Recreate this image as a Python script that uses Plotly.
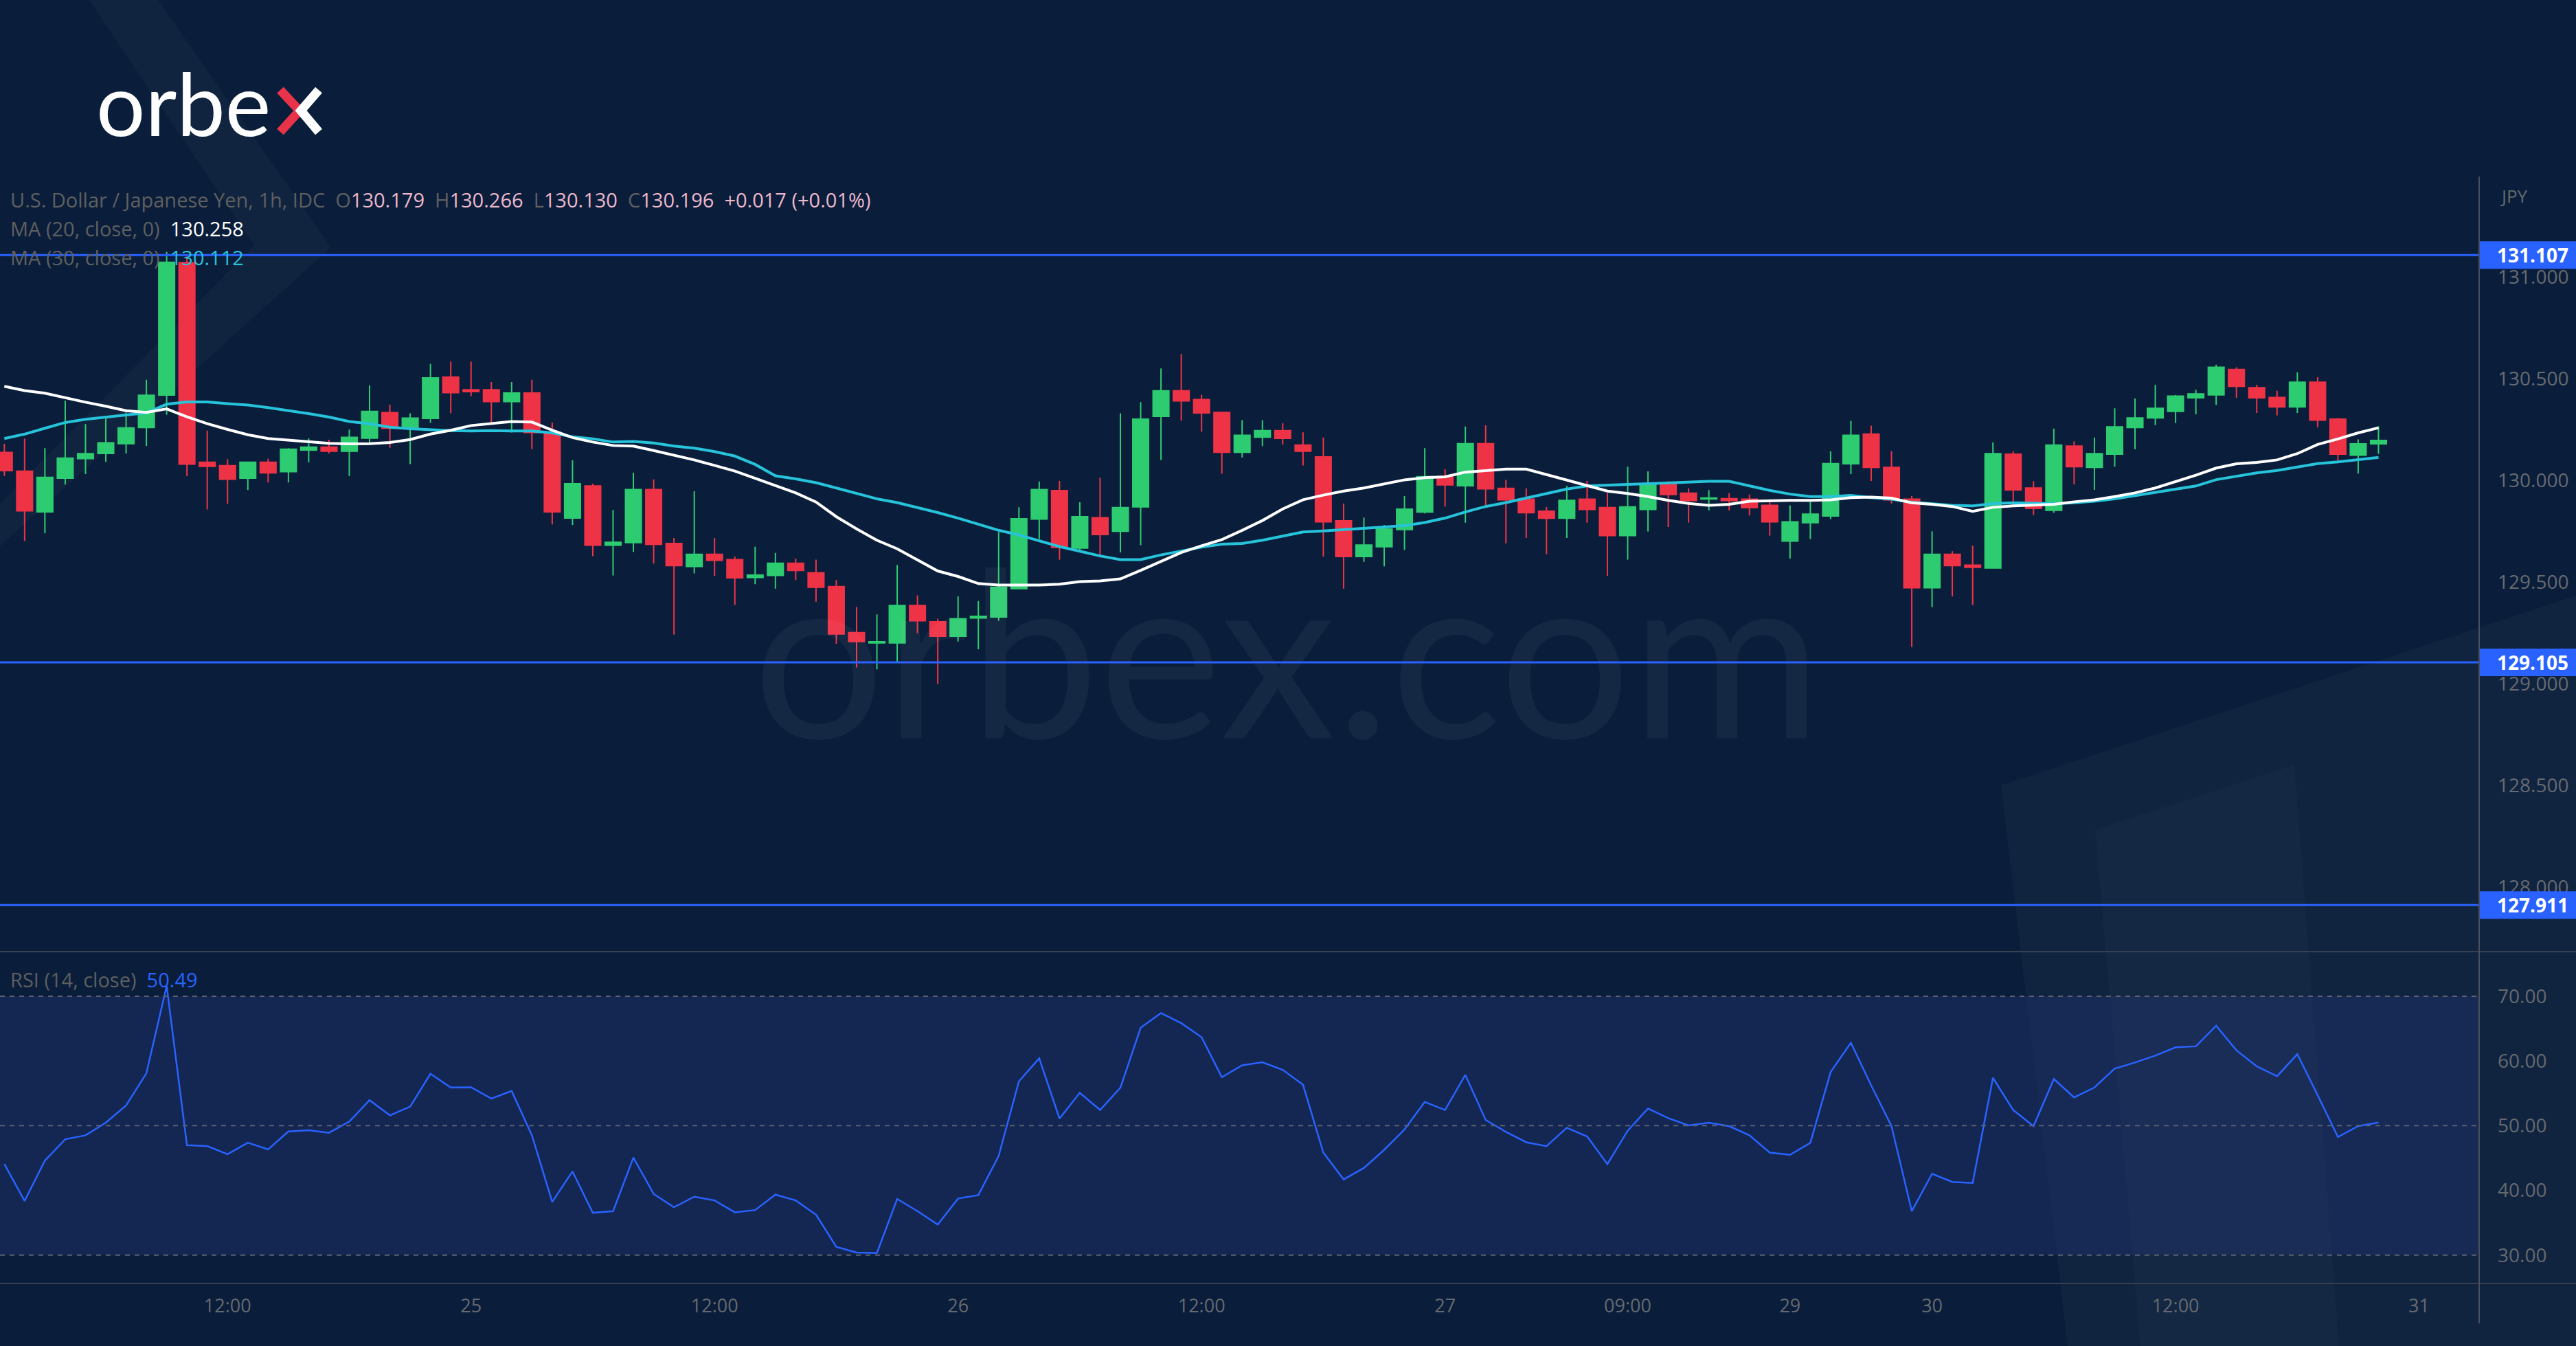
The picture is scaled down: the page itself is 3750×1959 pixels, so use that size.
import plotly.graph_objects as go

W, H = 3750, 1959

# ---------------- data ----------------
bars = list(range(118))

open_ = [130.137, 130.045, 129.845, 130.010, 130.106, 130.132, 130.180, 130.259, 130.419, 131.070,
         130.089, 130.072, 130.010, 130.089, 130.042, 130.149, 130.163, 130.143, 130.207, 130.333,
         130.256, 130.304, 130.508, 130.445, 130.445, 130.387, 130.429, 130.235, 129.814, 129.972,
         129.681, 129.693, 129.954, 129.689, 129.576, 129.636, 129.610, 129.522, 129.532, 129.592,
         129.545, 129.477, 129.251, 129.200, 129.200, 129.384, 129.304, 129.233, 129.323, 129.328,
         129.467, 129.809, 129.949, 129.666, 129.816, 129.749, 129.869, 130.314, 130.440, 130.397,
         130.334, 130.138, 130.212, 130.244, 130.173, 130.115, 129.801, 129.625, 129.673, 129.758,
         129.844, 130.018, 129.973, 130.180, 129.960, 129.907, 129.848, 129.813, 129.907, 129.866,
         129.728, 129.856, 129.980, 129.937, 129.908, 129.910, 129.907, 129.877, 129.701, 129.791,
         129.824, 130.081, 130.227, 130.063, 129.907, 129.471, 129.636, 129.583, 129.568, 130.128,
         129.962, 129.852, 130.168, 130.063, 130.128, 130.259, 130.307, 130.339, 130.405, 130.420,
         130.545, 130.455, 130.407, 130.361, 130.482, 130.301, 130.123, 130.179]
high = [130.179, 130.205, 130.158, 130.391, 130.276, 130.303, 130.334, 130.494, 131.123, 131.100,
        130.244, 130.104, 130.092, 130.106, 130.158, 130.206, 130.199, 130.249, 130.467, 130.372,
        130.329, 130.573, 130.584, 130.584, 130.483, 130.483, 130.494, 130.284, 130.098, 129.983,
        129.854, 130.037, 130.004, 129.716, 129.946, 129.716, 129.625, 129.673, 129.643, 129.615,
        129.610, 129.509, 129.377, 129.340, 129.584, 129.434, 129.319, 129.429, 129.406, 129.746,
        129.867, 129.994, 129.997, 129.892, 130.013, 130.329, 130.384, 130.550, 130.621, 130.420,
        130.337, 130.296, 130.296, 130.280, 130.236, 130.210, 129.886, 129.817, 129.780, 129.922,
        130.158, 130.055, 130.264, 130.270, 130.002, 129.960, 129.869, 129.972, 129.997, 129.937,
        130.067, 130.044, 129.995, 129.960, 129.952, 129.937, 129.930, 129.892, 129.877, 129.894,
        130.142, 130.292, 130.269, 130.143, 129.922, 129.749, 129.651, 129.678, 130.186, 130.143,
        129.995, 130.254, 130.191, 130.210, 130.354, 130.402, 130.470, 130.420, 130.445, 130.568,
        130.556, 130.470, 130.440, 130.530, 130.507, 130.307, 130.201, 130.266]
low = [130.021, 129.702, 129.740, 129.979, 130.030, 130.090, 130.132, 130.169, 130.323, 130.021,
       129.856, 129.884, 129.952, 129.989, 129.989, 130.089, 130.132, 130.021, 130.180, 130.160,
       130.079, 130.282, 130.329, 130.413, 130.282, 130.235, 130.154, 129.783, 129.780, 129.627,
       129.532, 129.648, 129.590, 129.241, 129.542, 129.530, 129.388, 129.489, 129.467, 129.509,
       129.403, 129.196, 129.079, 129.070, 129.105, 129.248, 128.999, 129.207, 129.169, 129.309,
       129.467, 129.711, 129.610, 129.655, 129.620, 129.645, 129.681, 130.100, 130.293, 130.239,
       130.032, 130.112, 130.168, 130.176, 130.073, 129.625, 129.467, 129.599, 129.577, 129.658,
       129.837, 129.871, 129.791, 129.871, 129.690, 129.716, 129.636, 129.716, 129.791, 129.530,
       129.610, 129.748, 129.770, 129.791, 129.851, 129.851, 129.827, 129.728, 129.615, 129.711,
       129.809, 130.030, 129.997, 129.886, 129.180, 129.377, 129.429, 129.387, 129.568, 129.871,
       129.829, 129.840, 129.980, 129.953, 130.067, 130.153, 130.271, 130.281, 130.324, 130.371,
       130.405, 130.331, 130.319, 130.331, 130.261, 130.093, 130.033, 130.130]
close = [130.047, 129.850, 130.014, 130.109, 130.131, 130.184, 130.258, 130.418, 131.072, 130.079,
         130.068, 130.005, 130.089, 130.036, 130.153, 130.163, 130.143, 130.211, 130.339, 130.256,
         130.306, 130.503, 130.431, 130.436, 130.387, 130.429, 130.235, 129.845, 129.983, 129.681,
         129.695, 129.954, 129.685, 129.580, 129.636, 129.606, 129.520, 129.534, 129.592, 129.557,
         129.474, 129.244, 129.207, 129.206, 129.384, 129.309, 129.233, 129.319, 129.331, 129.474,
         129.811, 129.954, 129.670, 129.821, 129.733, 129.866, 130.301, 130.440, 130.390, 130.331,
         130.138, 130.221, 130.244, 130.206, 130.143, 129.796, 129.625, 129.682, 129.760, 129.858,
         130.018, 129.977, 130.180, 129.958, 129.904, 129.840, 129.813, 129.901, 129.856, 129.728,
         129.869, 129.980, 129.930, 129.900, 129.913, 129.900, 129.866, 129.796, 129.796, 129.834,
         130.082, 130.221, 130.063, 129.904, 129.471, 129.636, 129.580, 129.572, 130.131, 129.953,
         129.862, 130.173, 130.067, 130.131, 130.263, 130.307, 130.354, 130.414, 130.425, 130.556,
         130.462, 130.405, 130.361, 130.482, 130.296, 130.128, 130.179, 130.196]

ma20 = [130.462, 130.441, 130.428, 130.405, 130.384, 130.364, 130.342, 130.334, 130.351, 130.312,
        130.278, 130.250, 130.224, 130.205, 130.197, 130.190, 130.182, 130.179, 130.180, 130.186,
        130.200, 130.227, 130.246, 130.269, 130.280, 130.289, 130.286, 130.246, 130.210, 130.188,
        130.171, 130.168, 130.146, 130.123, 130.100, 130.073, 130.045, 130.010, 129.975, 129.938,
        129.893, 129.821, 129.761, 129.705, 129.663, 129.610, 129.554, 129.527, 129.492, 129.485,
        129.485, 129.485, 129.489, 129.502, 129.505, 129.515, 129.557, 129.600, 129.645, 129.678,
        129.708, 129.754, 129.802, 129.859, 129.904, 129.927, 129.947, 129.962, 129.983, 130.002,
        130.013, 130.017, 130.040, 130.048, 130.055, 130.055, 130.028, 130.002, 129.972, 129.947,
        129.935, 129.920, 129.901, 129.886, 129.877, 129.882, 129.897, 129.900, 129.901, 129.901,
        129.904, 129.915, 129.917, 129.912, 129.889, 129.882, 129.871, 129.847, 129.867, 129.874,
        129.877, 129.882, 129.894, 129.904, 129.920, 129.938, 129.962, 129.992, 130.025, 130.060,
        130.081, 130.088, 130.100, 130.131, 130.176, 130.203, 130.233, 130.258]
ma30 = [130.205, 130.227, 130.256, 130.284, 130.300, 130.312, 130.321, 130.332, 130.374, 130.385,
        130.385, 130.377, 130.370, 130.357, 130.343, 130.328, 130.311, 130.289, 130.278, 130.261,
        130.253, 130.248, 130.244, 130.242, 130.244, 130.242, 130.242, 130.233, 130.214, 130.204,
        130.188, 130.191, 130.183, 130.168, 130.158, 130.141, 130.119, 130.078, 130.022, 130.007,
        129.988, 129.962, 129.935, 129.909, 129.890, 129.867, 129.841, 129.814, 129.784, 129.754,
        129.731, 129.701, 129.674, 129.651, 129.628, 129.610, 129.610, 129.633, 129.653, 129.671,
        129.686, 129.689, 129.705, 129.726, 129.746, 129.751, 129.757, 129.762, 129.769, 129.777,
        129.792, 129.814, 129.844, 129.871, 129.890, 129.912, 129.935, 129.957, 129.972, 129.977,
        129.980, 129.983, 129.987, 129.992, 129.995, 129.995, 129.972, 129.950, 129.932, 129.920,
        129.920, 129.926, 129.915, 129.907, 129.892, 129.885, 129.877, 129.874, 129.885, 129.889,
        129.886, 129.885, 129.889, 129.897, 129.909, 129.924, 129.942, 129.954, 129.972, 130.003,
        130.021, 130.036, 130.048, 130.066, 130.082, 130.090, 130.100, 130.112]

rsi = [44.07, 38.38, 44.60, 47.90, 48.51, 50.46, 53.13, 58.10, 71.60, 46.98,
       46.84, 45.60, 47.37, 46.34, 49.11, 49.29, 48.90, 50.64, 53.94, 51.60,
       52.95, 58.03, 55.90, 55.93, 54.19, 55.36, 48.51, 38.21, 42.93, 36.54,
       36.79, 45.06, 39.45, 37.39, 39.02, 38.45, 36.61, 36.96, 39.34, 38.45,
       36.25, 31.28, 30.39, 30.32, 38.67, 36.79, 34.72, 38.74, 39.27, 45.31,
       56.86, 60.41, 51.10, 55.08, 52.42, 55.86, 65.13, 67.41, 65.84, 63.68,
       57.50, 59.34, 59.80, 58.63, 56.32, 45.84, 41.69, 43.46, 46.27, 49.40,
       53.66, 52.42, 57.85, 50.89, 49.04, 47.44, 46.84, 49.68, 48.33, 44.07,
       49.22, 52.66, 51.17, 50.04, 50.46, 49.93, 48.51, 45.84, 45.49, 47.34,
       58.28, 62.82, 56.22, 49.93, 36.79, 42.58, 41.30, 41.15, 57.39, 52.42,
       49.93, 57.21, 54.37, 55.90, 58.81, 59.77, 60.83, 62.11, 62.26, 65.45,
       61.65, 59.17, 57.64, 61.05, 54.72, 48.26, 49.93, 50.49]

tick_bars = [11, 23, 35, 47, 59, 71, 80, 88, 95, 107, 119]
tick_text = ["12:00", "25", "12:00", "26", "12:00", "27", "09:00", "29", "30", "12:00", "31"]
price_ticks = [128.0, 128.5, 129.0, 129.5, 130.0, 130.5, 131.0]
rsi_ticks = [30, 40, 50, 60, 70]
levels = [131.107, 129.105, 127.911]

# ---------------- styling ----------------
BG = "#0a1e3b"
GREEN = "#2ecc71"
RED = "#ef3346"
GREY = "#666a70"
LBL = "#5f5f5f"
PINK = "#eeb8cc"
CYAN = "#26c3da"
BLUE = "#2962ff"
FONT = "Open Sans"


def fx(x):
    return x / W


def fy(y):
    return 1 - y / H


AX_X = 3609  # right price-axis line (pixels)
MAIN_TOP, MAIN_BOT = 257, 1385
RSI_TOP, RSI_BOT = 1385, 1868

x_range = [(0 - 6.3) / 29.54, (AX_X - 6.3) / 29.54]
y_range = [130 - (MAIN_BOT - 699) / 296, 130 + (699 - MAIN_TOP) / 296]
r_range = [30 - (RSI_BOT - 1826.7) / 9.4175, 70 + (1450.0 - RSI_TOP) / 9.4175]

fig = go.Figure()

# watermark (behind everything)
fig.add_trace(go.Scatter(
    x=[(1874 - 6.3) / 29.54], y=[130 - (990 - 699) / 296], mode="text",
    text=["orbex.com"], textposition="middle center",
    textfont=dict(family="Lato", size=338, color="rgba(255,255,255,0.045)"),
    hoverinfo="skip", showlegend=False, xaxis="x", yaxis="y"))

fig.add_trace(go.Candlestick(
    x=bars, open=open_, high=high, low=low, close=close,
    increasing=dict(line=dict(color=GREEN, width=2), fillcolor=GREEN),
    decreasing=dict(line=dict(color=RED, width=2), fillcolor=RED),
    whiskerwidth=0, showlegend=False, xaxis="x", yaxis="y"))

fig.add_trace(go.Scatter(x=bars, y=ma30, mode="lines",
                         line=dict(color=CYAN, width=4), showlegend=False,
                         xaxis="x", yaxis="y"))
fig.add_trace(go.Scatter(x=bars, y=ma20, mode="lines",
                         line=dict(color="#ffffff", width=4), showlegend=False,
                         xaxis="x", yaxis="y"))

fig.add_trace(go.Scatter(x=bars, y=rsi, mode="lines",
                         line=dict(color=BLUE, width=2.5), showlegend=False,
                         xaxis="x2", yaxis="y2"))

shapes = []
# decorative background facets
deco = "rgba(255,255,255,0.028)"
shapes.append(dict(type="path", xref="paper", yref="paper", layer="below",
                   path=f"M {fx(130)},{fy(0)} L {fx(230)},{fy(0)} L {fx(482)},{fy(360)} "
                        f"L {fx(0)},{fy(795)} L {fx(0)},{fy(733)} L {fx(370)},{fy(357)} Z",
                   fillcolor=deco, line=dict(width=0)))
shapes.append(dict(type="path", xref="paper", yref="paper", layer="below",
                   path=f"M {fx(2913)},{fy(1143)} L {fx(3750)},{fy(867)} L {fx(3750)},{fy(1959)} "
                        f"L {fx(3010)},{fy(1959)} Z",
                   fillcolor=deco, line=dict(width=0)))
shapes.append(dict(type="path", xref="paper", yref="paper", layer="below",
                   path=f"M {fx(3050)},{fy(1208)} L {fx(3340)},{fy(1113)} L {fx(3405)},{fy(1959)} "
                        f"L {fx(3116)},{fy(1959)} Z",
                   fillcolor="rgba(255,255,255,0.02)", line=dict(width=0)))

# RSI band and guide lines
shapes.append(dict(type="rect", xref="paper", yref="y2", layer="below",
                   x0=0, x1=fx(AX_X), y0=30, y1=70,
                   fillcolor="rgba(33,52,110,0.45)", line=dict(width=0)))
for v in (70, 50, 30):
    shapes.append(dict(type="line", xref="paper", yref="y2", x0=0, x1=fx(AX_X), y0=v, y1=v,
                       line=dict(color="#5d6270", width=2, dash="7px,7px")))

# horizontal levels
for lv in levels:
    shapes.append(dict(type="line", xref="paper", yref="y", x0=0, x1=fx(AX_X), y0=lv, y1=lv,
                       line=dict(color=BLUE, width=3), layer="above"))
    shapes.append(dict(type="rect", xref="paper", yref="y", x0=fx(AX_X + 1), x1=1,
                       y0=lv - 20 / 296, y1=lv + 20 / 296,
                       fillcolor=BLUE, line=dict(width=0), layer="above"))

# separators and axis line
for yy in (RSI_TOP, RSI_BOT):
    shapes.append(dict(type="line", xref="paper", yref="paper", x0=0, x1=1, y0=fy(yy), y1=fy(yy),
                       line=dict(color="#3a4050", width=2), layer="above"))
shapes.append(dict(type="line", xref="paper", yref="paper", x0=fx(AX_X), x1=fx(AX_X),
                   y0=fy(MAIN_TOP), y1=fy(1926), line=dict(color="#4a4f5c", width=2), layer="above"))

# logo "x" strokes
shapes.append(dict(type="path", xref="paper", yref="paper", layer="above",
                   path=f"M {fx(408)},{fy(131)} L {fx(436)},{fy(161)} L {fx(408)},{fy(192)}",
                   line=dict(color="#e8334a", width=13)))
shapes.append(dict(type="path", xref="paper", yref="paper", layer="above",
                   path=f"M {fx(464)},{fy(131)} L {fx(438)},{fy(161)} L {fx(464)},{fy(192)}",
                   line=dict(color="#ffffff", width=13)))

ann = []


def span(t, c):
    return f"<span style='color:{c}'>{t}</span>"


sp = "&nbsp;"
line1 = (span("U.S. Dollar / Japanese Yen, 1h, IDC", LBL) + sp * 2 +
         span("O", LBL) + span(f"{open_[-1]:.3f}", PINK) + sp * 2 +
         span("H", LBL) + span(f"{high[-1]:.3f}", PINK) + sp * 2 +
         span("L", LBL) + span(f"{low[-1]:.3f}", PINK) + sp * 2 +
         span("C", LBL) + span(f"{close[-1]:.3f}", PINK) + sp * 2 +
         span("+0.017 (+0.01%)", PINK))
ann.append(dict(x=fx(13), y=fy(291), text=line1))
ann.append(dict(x=fx(13), y=fy(332), text=span("MA (20, close, 0)", LBL) + sp * 2 +
                span(f"{ma20[-1]:.3f}", "#ffffff")))
ann.append(dict(x=fx(13), y=fy(374), text=span("MA (30, close, 0)", LBL) + sp * 2 +
                span(f"{ma30[-1]:.3f}", CYAN)))
ann.append(dict(x=fx(13), y=fy(1425), text=span("RSI (14, close)", LBL) + sp * 2 +
                span(f"{rsi[-1]:.2f}", BLUE)))
for a in ann:
    a.update(xref="paper", yref="paper", xanchor="left", yanchor="middle", showarrow=False,
             font=dict(family=FONT, size=29, color=LBL))

ann.append(dict(x=fx(3637), y=fy(285), xref="paper", yref="paper", xanchor="left",
                yanchor="middle", showarrow=False, text="JPY",
                font=dict(family=FONT, size=26, color=GREY)))
for lv in levels:
    ann.append(dict(x=fx(3687), y=lv, xref="paper", yref="y", xanchor="center",
                    yanchor="middle", showarrow=False, text=f"<b>{lv:.3f}</b>",
                    font=dict(family=FONT, size=28, color="#ffffff")))
ann.append(dict(x=fx(138), y=fy(150), xref="paper", yref="paper", xanchor="left",
                yanchor="middle", showarrow=False, text="orbe",
                font=dict(family="Lato", size=126, color="#ffffff")))

fig.update_layout(
    width=W, height=H, margin=dict(l=0, r=0, t=0, b=0),
    paper_bgcolor=BG, plot_bgcolor="rgba(0,0,0,0)",
    showlegend=False, boxgap=0.22, boxgroupgap=0,
    shapes=shapes, annotations=ann,
    xaxis=dict(domain=[0, fx(AX_X)], range=x_range, anchor="y", showticklabels=False,
               showgrid=False, zeroline=False, showline=False, rangeslider=dict(visible=False)),
    xaxis2=dict(domain=[0, fx(AX_X)], range=x_range, anchor="y2", matches="x",
                tickmode="array", tickvals=tick_bars, ticktext=tick_text,
                tickfont=dict(family=FONT, size=27, color=GREY), ticks="",
                ticklabelstandoff=14, showgrid=False, zeroline=False, showline=False),
    yaxis=dict(domain=[fy(MAIN_BOT), fy(MAIN_TOP)], range=y_range, side="right", anchor="x",
               tickmode="array", tickvals=price_ticks, ticktext=[f"{v:.3f}" for v in price_ticks],
               tickfont=dict(family=FONT, size=28, color=GREY), ticks="",
               ticklabelstandoff=26, showgrid=False, zeroline=False, showline=False),
    yaxis2=dict(domain=[fy(RSI_BOT), fy(RSI_TOP)], range=r_range, side="right", anchor="x2",
                tickmode="array", tickvals=rsi_ticks, ticktext=[f"{v:.2f}" for v in rsi_ticks],
                tickfont=dict(family=FONT, size=28, color=GREY), ticks="",
                ticklabelstandoff=26, showgrid=False, zeroline=False, showline=False),
)

fig.write_html(
    "out.html",
    config={"displayModeBar": False},
    post_script="document.body.style.margin='0';document.body.style.background='#0a1e3b';",
)
